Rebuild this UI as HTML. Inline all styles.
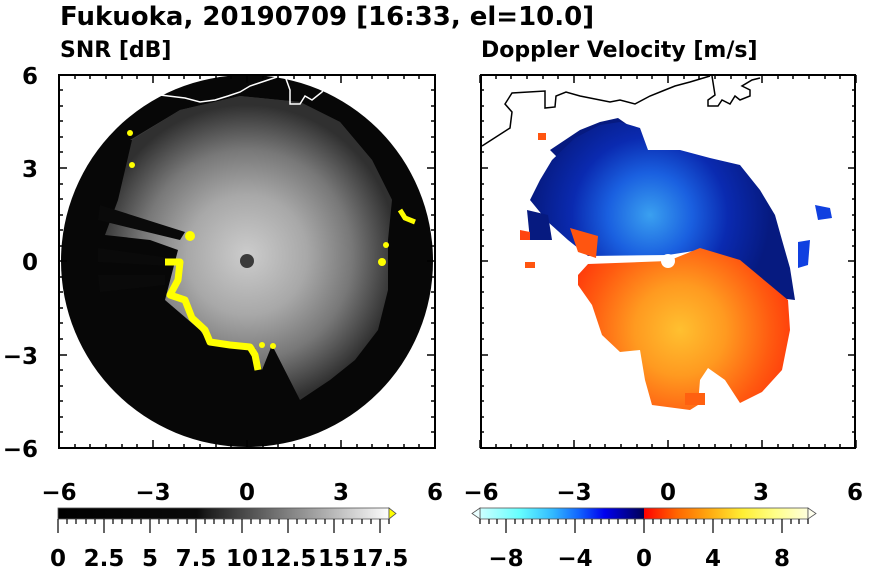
<!DOCTYPE html>
<html><head><meta charset="utf-8"><style>
html,body{margin:0;padding:0;background:#fff;width:870px;height:570px;overflow:hidden}
text{font-family:"DejaVu Sans","Liberation Sans",sans-serif;font-weight:bold;fill:#000}
</style></head><body>
<svg width="870" height="570" viewBox="0 0 870 570" xmlns="http://www.w3.org/2000/svg">
<defs>
<radialGradient id="gsnr" cx="247" cy="255" r="150" gradientUnits="userSpaceOnUse">
<stop offset="0" stop-color="#cccccc"/><stop offset="0.4" stop-color="#a8a8a8"/><stop offset="0.7" stop-color="#787878"/><stop offset="1" stop-color="#303030"/>
</radialGradient>
<radialGradient id="gblue" cx="650" cy="215" r="120" gradientUnits="userSpaceOnUse">
<stop offset="0" stop-color="#3aa0f0"/><stop offset="0.35" stop-color="#1a60e0"/><stop offset="0.65" stop-color="#0a2ab0"/><stop offset="1" stop-color="#061a80"/>
</radialGradient>
<radialGradient id="gred" cx="680" cy="330" r="130" gradientUnits="userSpaceOnUse">
<stop offset="0" stop-color="#ffc030"/><stop offset="0.35" stop-color="#ff9a20"/><stop offset="0.7" stop-color="#ff5a10"/><stop offset="1" stop-color="#ff2a08"/>
</radialGradient>
<linearGradient id="cbl" x1="0" x2="1" y1="0" y2="0">
<stop offset="0" stop-color="#000"/><stop offset="0.42" stop-color="#0a0a0a"/><stop offset="0.45" stop-color="#1c1c1c"/><stop offset="1" stop-color="#fdfdfd"/>
</linearGradient>
<linearGradient id="cbr" x1="0" x2="1" y1="0" y2="0">
<stop offset="0" stop-color="#ccffff"/><stop offset="0.12" stop-color="#66ffff"/><stop offset="0.22" stop-color="#33bbff"/><stop offset="0.3" stop-color="#1166ff"/><stop offset="0.38" stop-color="#0000ee"/><stop offset="0.5" stop-color="#000055"/>
<stop offset="0.5" stop-color="#ff0000"/><stop offset="0.6" stop-color="#ff6600"/><stop offset="0.7" stop-color="#ffaa11"/><stop offset="0.8" stop-color="#ffee33"/><stop offset="0.9" stop-color="#ffff88"/><stop offset="1" stop-color="#ffffdd"/>
</linearGradient>
</defs>

<text x="60" y="25" font-size="26">Fukuoka, 20190709 [16:33, el=10.0]</text>
<text x="60" y="57" font-size="22">SNR [dB]</text>
<text x="481" y="57" font-size="22">Doppler Velocity [m/s]</text>

<!-- LEFT PANEL -->
<circle cx="247" cy="261" r="186" fill="#070707"/>
<polygon fill="#3a3a3a" points="130,140 180,110 240,96 300,102 340,122 372,160 392,200 300,130 230,120 160,140"/>
<polygon fill="url(#gsnr)" points="178,250 165,300 200,330 210,345 255,348 262,370 272,345 300,400 330,380 355,360 378,330 388,290 388,240 392,200 372,160 340,122 300,102 240,96 180,110 132,140 118,200 105,235 150,240"/>
<polygon fill="#0a0a0a" points="100,205 185,232 180,240 98,220"/>
<polygon fill="#0a0a0a" points="98,248 170,258 170,266 98,262"/>
<polygon fill="#0a0a0a" points="98,275 165,275 165,285 100,292"/>
<polyline fill="none" stroke="#ffff00" stroke-width="7" stroke-linejoin="round" points="165,262 180,262 178,280 170,295 185,300 192,318 205,330 210,342 230,345 250,347 255,355 258,370"/>
<circle cx="190" cy="236" r="5" fill="#ffff00"/>
<polyline fill="none" stroke="#ffff00" stroke-width="5" points="400,210 405,218 415,222"/>
<circle cx="386" cy="245" r="3" fill="#ffff00"/><circle cx="382" cy="262" r="4" fill="#ffff00"/>
<circle cx="262" cy="345" r="3" fill="#ffff00"/><circle cx="273" cy="346" r="3" fill="#ffff00"/>
<circle cx="130" cy="133" r="3" fill="#ffff00"/><circle cx="132" cy="165" r="3" fill="#ffff00"/>
<circle cx="247" cy="261" r="7" fill="#3a3a3a"/>
<polyline fill="none" stroke="#fff" stroke-width="1.5" points="160,95 185,98 200,102 215,100 228,96 240,92 250,86 262,82 280,76"/>
<polyline fill="none" stroke="#fff" stroke-width="1.5" points="285,76 290,90 290,104 300,104 305,96 312,100 322,92 328,82 322,76"/>

<!-- RIGHT PANEL -->
<polyline fill="none" stroke="#000" stroke-width="1.5" points="482,146 510,128 512,112 505,104 512,93 545,91 545,108 555,107 556,96 566,92 580,96 610,102 620,100 635,104 650,96 665,90 675,86 690,82 710,76"/>
<polyline fill="none" stroke="#000" stroke-width="1.5" points="712,76 715,95 708,100 708,106 718,106 722,100 730,104 735,96 740,100 750,96 750,90 742,86 752,80 760,78"/>
<polygon fill="#061a80" points="550,150 580,130 600,122 618,118 628,125 640,140 630,150 560,160"/>
<polygon fill="url(#gblue)" points="588,256 568,240 548,222 530,200 540,180 552,160 575,138 600,125 620,122 640,128 648,150 680,150 710,158 740,165 760,190 775,215 782,240 790,268 795,300 778,298 750,282 730,265 700,250 668,255"/>
<polygon fill="#061a80" points="527,210 548,215 552,240 530,240"/>
<polygon fill="url(#gred)" points="668,261 700,248 740,260 770,285 788,300 790,330 782,370 762,392 740,403 725,380 708,368 700,380 698,405 690,410 652,405 645,380 640,350 620,352 602,335 592,305 578,285 578,275 588,264"/>
<polygon fill="#ff5510" points="570,228 598,236 596,258 578,252"/>
<polygon fill="#ff4410" points="520,230 530,232 530,240 520,240"/>
<polygon fill="#ff5510" points="525,262 535,262 535,268 525,268"/>
<polygon fill="#ff5510" points="538,133 546,133 546,140 538,140"/>
<polygon fill="#ff6010" points="685,393 705,393 705,405 685,405"/>
<polygon fill="#1040e0" points="815,205 830,208 832,218 818,220"/>
<polygon fill="#1040e0" points="798,242 810,240 808,265 798,268"/>
<circle cx="668" cy="261" r="7" fill="#fff"/>

<!-- FRAMES & TICKS -->
<g stroke="#000" fill="none">
<rect x="59" y="75" width="376" height="373" stroke-width="2"/>
<rect x="481" y="75" width="374" height="373" stroke-width="2"/>
</g>
<g id="tk" stroke="#000" stroke-width="1.5">
<path d="M59 75v8M153 75v8M247 75v8M341 75v8M435 75v8M59 448v-8M153 448v-8M247 448v-8M341 448v-8M435 448v-8M59 75h8M59 168h8M59 261h8M59 355h8M59 448h8M435 75h-8M435 168h-8M435 261h-8M435 355h-8M435 448h-8"/>
<path d="M75 75v4M90 75v4M106 75v4M122 75v4M137 75v4M169 75v4M184 75v4M200 75v4M216 75v4M231 75v4M263 75v4M278 75v4M294 75v4M310 75v4M325 75v4M357 75v4M372 75v4M388 75v4M404 75v4M419 75v4M75 448v-4M90 448v-4M106 448v-4M122 448v-4M137 448v-4M169 448v-4M184 448v-4M200 448v-4M216 448v-4M231 448v-4M263 448v-4M278 448v-4M294 448v-4M310 448v-4M325 448v-4M357 448v-4M372 448v-4M388 448v-4M404 448v-4M419 448v-4"/>
<path d="M59 90h4M59 106h4M59 121h4M59 137h4M59 152h4M59 184h4M59 199h4M59 215h4M59 230h4M59 246h4M59 277h4M59 292h4M59 308h4M59 323h4M59 339h4M59 370h4M59 386h4M59 401h4M59 417h4M59 432h4M435 90h-4M435 106h-4M435 121h-4M435 137h-4M435 152h-4M435 184h-4M435 199h-4M435 215h-4M435 230h-4M435 246h-4M435 277h-4M435 292h-4M435 308h-4M435 323h-4M435 339h-4M435 370h-4M435 386h-4M435 401h-4M435 417h-4M435 432h-4"/>
</g>
<use href="#tk" x="421" y="0"/>

<!-- axis labels -->
<g font-size="23">
<text x="38" y="84" text-anchor="end">6</text>
<text x="38" y="177" text-anchor="end">3</text>
<text x="38" y="270" text-anchor="end">0</text>
<text x="38" y="364" text-anchor="end">−3</text>
<text x="38" y="457" text-anchor="end">−6</text>
<text x="59" y="500" text-anchor="middle">−6</text>
<text x="153" y="500" text-anchor="middle">−3</text>
<text x="247" y="500" text-anchor="middle">0</text>
<text x="341" y="500" text-anchor="middle">3</text>
<text x="435" y="500" text-anchor="middle">6</text>
<text x="481" y="500" text-anchor="middle">−6</text>
<text x="574" y="500" text-anchor="middle">−3</text>
<text x="668" y="500" text-anchor="middle">0</text>
<text x="761" y="500" text-anchor="middle">3</text>
<text x="855" y="500" text-anchor="middle">6</text>
</g>

<!-- left colorbar -->
<rect x="58" y="508" width="331" height="11" fill="url(#cbl)" stroke="#555" stroke-width="0.8"/>
<polygon points="389,508 396,513.5 389,519" fill="#ffff00" stroke="#555" stroke-width="0.8"/>
<g stroke="#000" stroke-width="1.2">
<path d="M58 519v14M104 519v14M150 519v14M196 519v14M242 519v14M288 519v14M334 519v14M380 519v14"/>
<path d="M67 519v5M76 519v5M86 519v5M95 519v5M113 519v5M122 519v5M132 519v5M141 519v5M159 519v5M168 519v5M178 519v5M187 519v5M205 519v5M214 519v5M224 519v5M233 519v5M251 519v5M260 519v5M270 519v5M279 519v5M297 519v5M306 519v5M316 519v5M325 519v5M343 519v5M352 519v5M362 519v5M371 519v5M389 519v5"/>
</g>
<g font-size="23" text-anchor="middle">
<text x="58" y="566">0</text><text x="104" y="566">2.5</text><text x="150" y="566">5</text><text x="196" y="566">7.5</text><text x="242" y="566">10</text><text x="288" y="566">12.5</text><text x="334" y="566">15</text><text x="380" y="566">17.5</text>
</g>

<!-- right colorbar -->
<rect x="480" y="508" width="328" height="11" fill="url(#cbr)" stroke="#555" stroke-width="0.8"/>
<polygon points="480,508 472,513.5 480,519" fill="#eaffff" stroke="#555" stroke-width="0.8"/>
<polygon points="808,508 816,513.5 808,519" fill="#ffffee" stroke="#555" stroke-width="0.8"/>
<g stroke="#000" stroke-width="1.2">
<path d="M506 519v14M575 519v14M644 519v14M713 519v14M782 519v14"/>
<path d="M480 519v5M489 519v5M497 519v5M515 519v5M523 519v5M532 519v5M540 519v5M549 519v5M558 519v5M566 519v5M584 519v5M592 519v5M601 519v5M609 519v5M618 519v5M627 519v5M635 519v5M653 519v5M661 519v5M670 519v5M678 519v5M687 519v5M696 519v5M704 519v5M722 519v5M730 519v5M739 519v5M747 519v5M756 519v5M765 519v5M773 519v5M791 519v5M799 519v5M808 519v5"/>
</g>
<g font-size="23" text-anchor="middle">
<text x="506" y="566">−8</text><text x="575" y="566">−4</text><text x="644" y="566">0</text><text x="713" y="566">4</text><text x="782" y="566">8</text>
</g>
</svg>
</body></html>
